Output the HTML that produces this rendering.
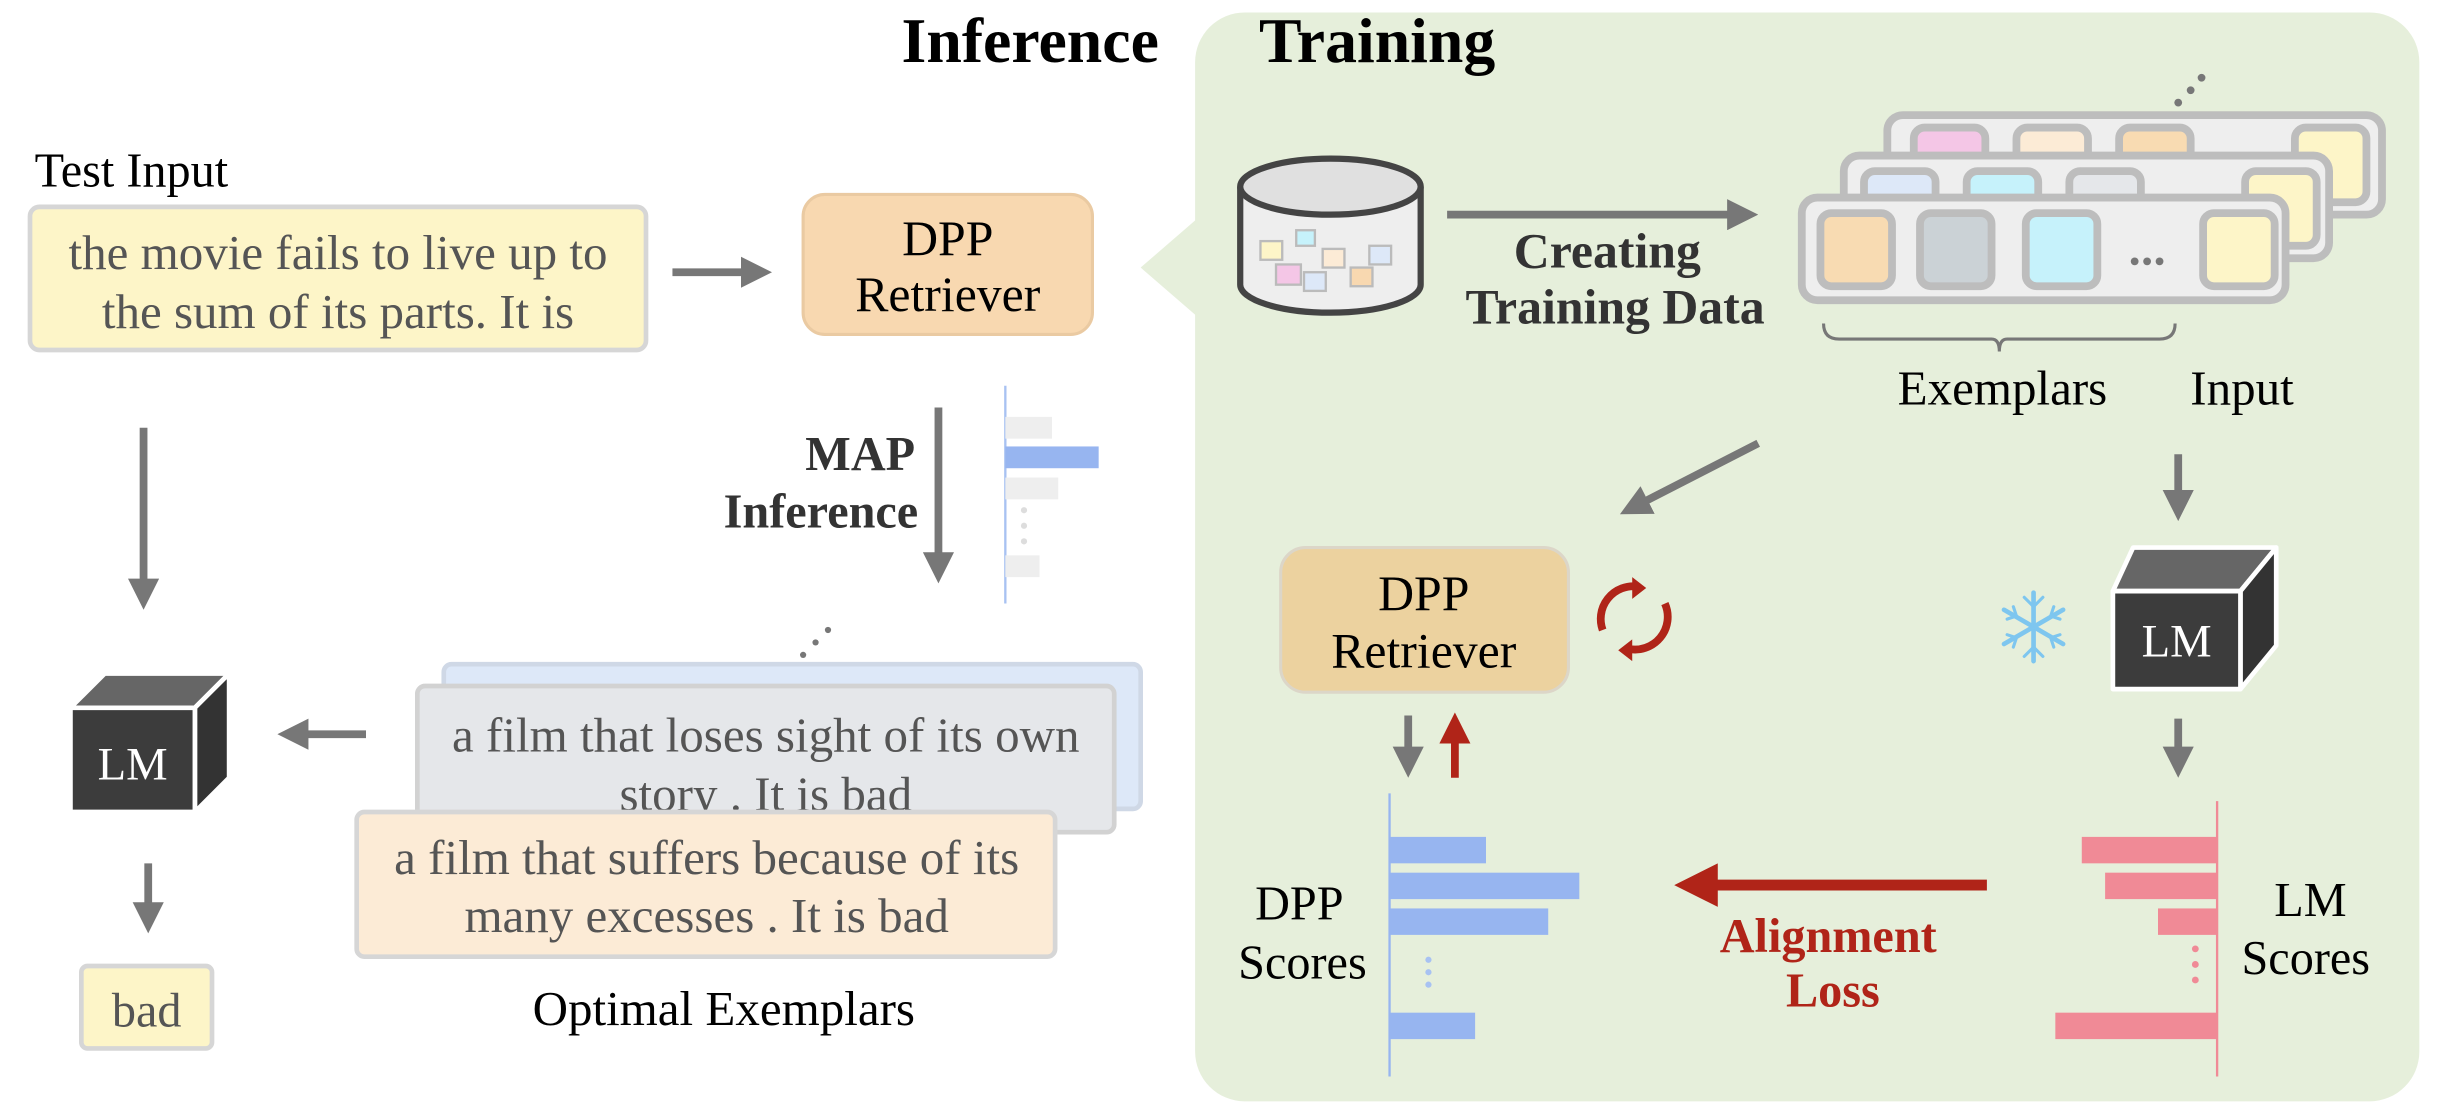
<!DOCTYPE html>
<html><head><meta charset="utf-8"><style>html,body{margin:0;padding:0;background:#fff}svg{display:block}</style></head><body>
<svg width="2440" height="1120" viewBox="0 0 1568 720" xmlns="http://www.w3.org/2000/svg" font-family="'Liberation Serif', serif">
<defs>
<marker id="ag" markerWidth="4" markerHeight="4" refX="2" refY="2" orient="auto" markerUnits="strokeWidth"><path d="M0,0 L4,2 L0,4 z" fill="#777"/></marker>
<marker id="ar" markerWidth="4" markerHeight="4" refX="2" refY="2" orient="auto" markerUnits="strokeWidth"><path d="M0,0 L4,2 L0,4 z" fill="#b02418"/></marker>
</defs>
<rect x="768" y="8" width="787" height="700" rx="32" fill="#e6efdb"/>
<path d="M770,140 L733,172 L770,204 z" fill="#e6efdb"/>
<text x="662" y="40" font-size="41" font-weight="bold" text-anchor="middle">Inference</text>
<text x="885" y="40" font-size="41" font-weight="bold" text-anchor="middle">Training</text>

<text x="22" y="120" font-size="31">Test Input</text>
<rect x="19" y="133" width="396" height="92" rx="6" fill="#fdf5c8" stroke="#d6d6d6" stroke-width="3"/>
<text x="217" y="173" font-size="31.5" fill="#555" text-anchor="middle">the movie fails to live up to</text>
<text x="217" y="211" font-size="31.5" fill="#555" text-anchor="middle">the sum of its parts. It is</text>
<line x1="432" y1="175" x2="486" y2="175" stroke="#777" stroke-width="5" marker-end="url(#ag)"/>
<rect x="516" y="125" width="186" height="90" rx="14" fill="#f8d8b0" stroke="#eacaa2" stroke-width="2"/>
<text x="609" y="164" font-size="32" text-anchor="middle">DPP</text>
<text x="609" y="200" font-size="32" text-anchor="middle">Retriever</text>

<line x1="92" y1="275" x2="92" y2="382" stroke="#777" stroke-width="5" marker-end="url(#ag)"/>
<text x="588" y="302" font-size="31" font-weight="bold" fill="#333" text-anchor="end">MAP</text>
<text x="590" y="339" font-size="31" font-weight="bold" fill="#333" text-anchor="end">Inference</text>
<line x1="603" y1="262" x2="603" y2="365" stroke="#777" stroke-width="5" marker-end="url(#ag)"/>
<line x1="646" y1="248" x2="646" y2="388" stroke="#a8c2f2" stroke-width="1.5"/>
<rect x="646" y="268" width="30" height="14" fill="#eeeeee"/>
<rect x="646" y="287" width="60" height="14" fill="#97b5f0"/>
<rect x="646" y="307" width="34" height="14" fill="#eeeeee"/>
<circle cx="658" cy="328" r="2" fill="#ddd"/><circle cx="658" cy="338" r="2" fill="#ddd"/><circle cx="658" cy="348" r="2" fill="#ddd"/>
<rect x="646" y="357" width="22" height="14" fill="#eeeeee"/>

<g stroke="#fff" stroke-width="3" stroke-linejoin="round">
<path d="M45,455 L67,433 L147,433 L125,455 z" fill="#666"/>
<path d="M125,455 L147,433 L147,500 L125,522 z" fill="#333"/>
<rect x="45" y="455" width="80" height="67" fill="#3c3c3c"/>
</g>
<text x="85" y="501" font-size="30" fill="#fff" text-anchor="middle">LM</text>
<line x1="235" y1="472" x2="188" y2="472" stroke="#777" stroke-width="5" marker-end="url(#ag)"/>
<line x1="95" y1="555" x2="95" y2="590" stroke="#777" stroke-width="5" marker-end="url(#ag)"/>
<rect x="52" y="621" width="84" height="53" rx="4" fill="#fdf5c8" stroke="#d6d6d6" stroke-width="3"/>
<text x="94" y="660" font-size="31" fill="#555" text-anchor="middle">bad</text>

<circle cx="516" cy="421" r="2" fill="#777"/><circle cx="524" cy="413" r="2" fill="#777"/><circle cx="532" cy="405" r="2" fill="#777"/>
<rect x="285" y="427" width="448" height="93" rx="5" fill="#dde8f8" stroke="#cfd8e6" stroke-width="3"/>
<rect x="268" y="441" width="448" height="94" rx="5" fill="#e5e7ea" stroke="#d2d2d2" stroke-width="3"/>
<text x="492" y="483" font-size="31.5" fill="#555" text-anchor="middle">a film that loses sight of its own</text>
<text x="492" y="521" font-size="31.5" fill="#555" text-anchor="middle">story . It is bad</text>
<rect x="229" y="522" width="449" height="93" rx="5" fill="#fcebd6" stroke="#d6d6d6" stroke-width="3"/>
<text x="454" y="562" font-size="31.5" fill="#555" text-anchor="middle">a film that suffers because of its</text>
<text x="454" y="599" font-size="31.5" fill="#555" text-anchor="middle">many excesses . It is bad</text>
<text x="465" y="659" font-size="31.5" text-anchor="middle">Optimal Exemplars</text>

<path d="M797,120 L797,183 A58,18 0 0 0 913,183 L913,120" fill="#eeeeee" stroke="#444" stroke-width="4"/>
<ellipse cx="855" cy="120" rx="58" ry="18" fill="#e0e0e0" stroke="#444" stroke-width="4"/>
<g stroke="#bbb" stroke-width="1.5">
<rect x="810" y="155" width="14" height="12" fill="#fdf5c8"/>
<rect x="820" y="170" width="16" height="13" fill="#f4c6e6"/>
<rect x="838" y="175" width="14" height="12" fill="#dde8f8"/>
<rect x="850" y="160" width="14" height="12" fill="#fcebd6"/>
<rect x="868" y="172" width="14" height="12" fill="#f8d8b0"/>
<rect x="880" y="158" width="14" height="12" fill="#dde8f8"/>
<rect x="833" y="148" width="12" height="10" fill="#c6f2fb"/>
</g>
<line x1="930" y1="138" x2="1120" y2="138" stroke="#777" stroke-width="5" marker-end="url(#ag)"/>
<text x="1033" y="172" font-size="32" font-weight="bold" fill="#333" text-anchor="middle">Creating</text>
<text x="1038" y="208" font-size="32" font-weight="bold" fill="#333" text-anchor="middle">Training Data</text>

<circle cx="1400" cy="66" r="2.5" fill="#777"/><circle cx="1408" cy="58" r="2.5" fill="#777"/><circle cx="1415" cy="50" r="2.5" fill="#777"/>
<g stroke="#bdbdbd" stroke-width="5">
<rect x="1213" y="74" width="318" height="64" rx="10" fill="#eeeeee"/>
<rect x="1230" y="82" width="46" height="48" rx="7" fill="#f4c6e6"/>
<rect x="1296" y="82" width="46" height="48" rx="7" fill="#fcebd6"/>
<rect x="1362" y="82" width="46" height="48" rx="7" fill="#f8dbb2"/>
<rect x="1475" y="82" width="46" height="48" rx="7" fill="#fdf5c8"/>
<rect x="1185" y="100" width="312" height="66" rx="10" fill="#eeeeee"/>
<rect x="1198" y="110" width="46" height="48" rx="7" fill="#dde8f8"/>
<rect x="1264" y="110" width="46" height="48" rx="7" fill="#c6f2fb"/>
<rect x="1330" y="110" width="46" height="48" rx="7" fill="#e5e7ea"/>
<rect x="1443" y="110" width="46" height="48" rx="7" fill="#fdf5c8"/>
<rect x="1158" y="127" width="311" height="66" rx="10" fill="#eeeeee"/>
<rect x="1170" y="137" width="46" height="47" rx="7" fill="#f8dbb2"/>
<rect x="1234" y="137" width="46" height="47" rx="7" fill="#cbd2d6"/>
<rect x="1302" y="137" width="46" height="47" rx="7" fill="#c6f2fb"/>
<rect x="1416" y="137" width="46" height="47" rx="7" fill="#fdf5c8"/>
</g>
<circle cx="1372" cy="168" r="2.5" fill="#777"/><circle cx="1380" cy="168" r="2.5" fill="#777"/><circle cx="1388" cy="168" r="2.5" fill="#777"/>
<path d="M1172,208 Q1172,218 1182,218 L1280,218 Q1285,218 1285,226 Q1285,218 1290,218 L1388,218 Q1398,218 1398,208" fill="none" stroke="#777" stroke-width="2"/>
<text x="1287" y="260" font-size="31.5" text-anchor="middle">Exemplars</text>
<text x="1441" y="260" font-size="31.5" text-anchor="middle">Input</text>

<line x1="1130" y1="285" x2="1050" y2="326" stroke="#777" stroke-width="5" marker-end="url(#ag)"/>
<line x1="1400" y1="292" x2="1400" y2="325" stroke="#777" stroke-width="5" marker-end="url(#ag)"/>

<rect x="823" y="352" width="185" height="93" rx="16" fill="#ecd29f" stroke="#dcd6c8" stroke-width="2"/>
<text x="915" y="392" font-size="32" text-anchor="middle">DPP</text>
<text x="915" y="429" font-size="32" text-anchor="middle">Retriever</text>
<g fill="none" stroke="#b02418" stroke-width="5">
<path d="M1030,405 A21,21 0 0 1 1052,377"/>
<path d="M1070,388 A21,21 0 0 1 1046,417"/>
</g>
<path d="M1049,371 L1058,378 L1049,385 z" fill="#b02418"/>
<path d="M1049,411 L1040,418 L1049,425 z" fill="#b02418"/>
<g stroke="#7ec6ef" stroke-width="3" stroke-linecap="round">
<line x1="1307" y1="381" x2="1307" y2="425"/>
<line x1="1288" y1="392" x2="1326" y2="414"/>
<line x1="1288" y1="414" x2="1326" y2="392"/>
<path d="M1301,384 L1307,390 L1313,384 M1301,422 L1307,416 L1313,422 M1290,398 L1296,396 L1294,390 M1324,398 L1318,396 L1320,390 M1290,408 L1296,410 L1294,416 M1324,408 L1318,410 L1320,416" fill="none" stroke-width="2"/>
</g>
<g stroke="#fff" stroke-width="3" stroke-linejoin="round">
<path d="M1358,380 L1371,352 L1463,352 L1440,380 z" fill="#666"/>
<path d="M1440,380 L1463,352 L1463,415 L1440,443 z" fill="#333"/>
<rect x="1358" y="380" width="82" height="63" fill="#3c3c3c"/>
</g>
<text x="1399" y="422" font-size="30" fill="#fff" text-anchor="middle">LM</text>

<line x1="905" y1="460" x2="905" y2="490" stroke="#777" stroke-width="5" marker-end="url(#ag)"/>
<line x1="935" y1="500" x2="935" y2="468" stroke="#b02418" stroke-width="5" marker-end="url(#ar)"/>
<line x1="1400" y1="462" x2="1400" y2="490" stroke="#777" stroke-width="5" marker-end="url(#ag)"/>

<line x1="893" y1="510" x2="893" y2="692" stroke="#97b5f0" stroke-width="1.5"/>
<rect x="893" y="538" width="62" height="17" fill="#97b5f0"/>
<rect x="893" y="561" width="122" height="17" fill="#97b5f0"/>
<rect x="893" y="584" width="102" height="17" fill="#97b5f0"/>
<circle cx="918" cy="617" r="2" fill="#a8c2f2"/><circle cx="918" cy="625" r="2" fill="#a8c2f2"/><circle cx="918" cy="633" r="2" fill="#a8c2f2"/>
<rect x="893" y="651" width="55" height="17" fill="#97b5f0"/>
<text x="835" y="591" font-size="31" text-anchor="middle">DPP</text>
<text x="837" y="629" font-size="31" text-anchor="middle">Scores</text>

<line x1="1277" y1="569" x2="1090" y2="569" stroke="#b02418" stroke-width="7" marker-end="url(#ar)"/>
<text x="1175" y="612" font-size="31" font-weight="bold" fill="#b02418" text-anchor="middle">Alignment</text>
<text x="1178" y="647" font-size="31" font-weight="bold" fill="#b02418" text-anchor="middle">Loss</text>

<line x1="1425" y1="515" x2="1425" y2="692" stroke="#f08a96" stroke-width="1.5"/>
<rect x="1338" y="538" width="87" height="17" fill="#f08a96"/>
<rect x="1353" y="561" width="72" height="17" fill="#f08a96"/>
<rect x="1387" y="584" width="38" height="17" fill="#f08a96"/>
<circle cx="1411" cy="610" r="2.2" fill="#f08a96"/><circle cx="1411" cy="620" r="2.2" fill="#f08a96"/><circle cx="1411" cy="630" r="2.2" fill="#f08a96"/>
<rect x="1321" y="651" width="104" height="17" fill="#f08a96"/>
<text x="1485" y="589" font-size="31" text-anchor="middle">LM</text>
<text x="1482" y="626" font-size="31" text-anchor="middle">Scores</text>
</svg>
</body></html>
